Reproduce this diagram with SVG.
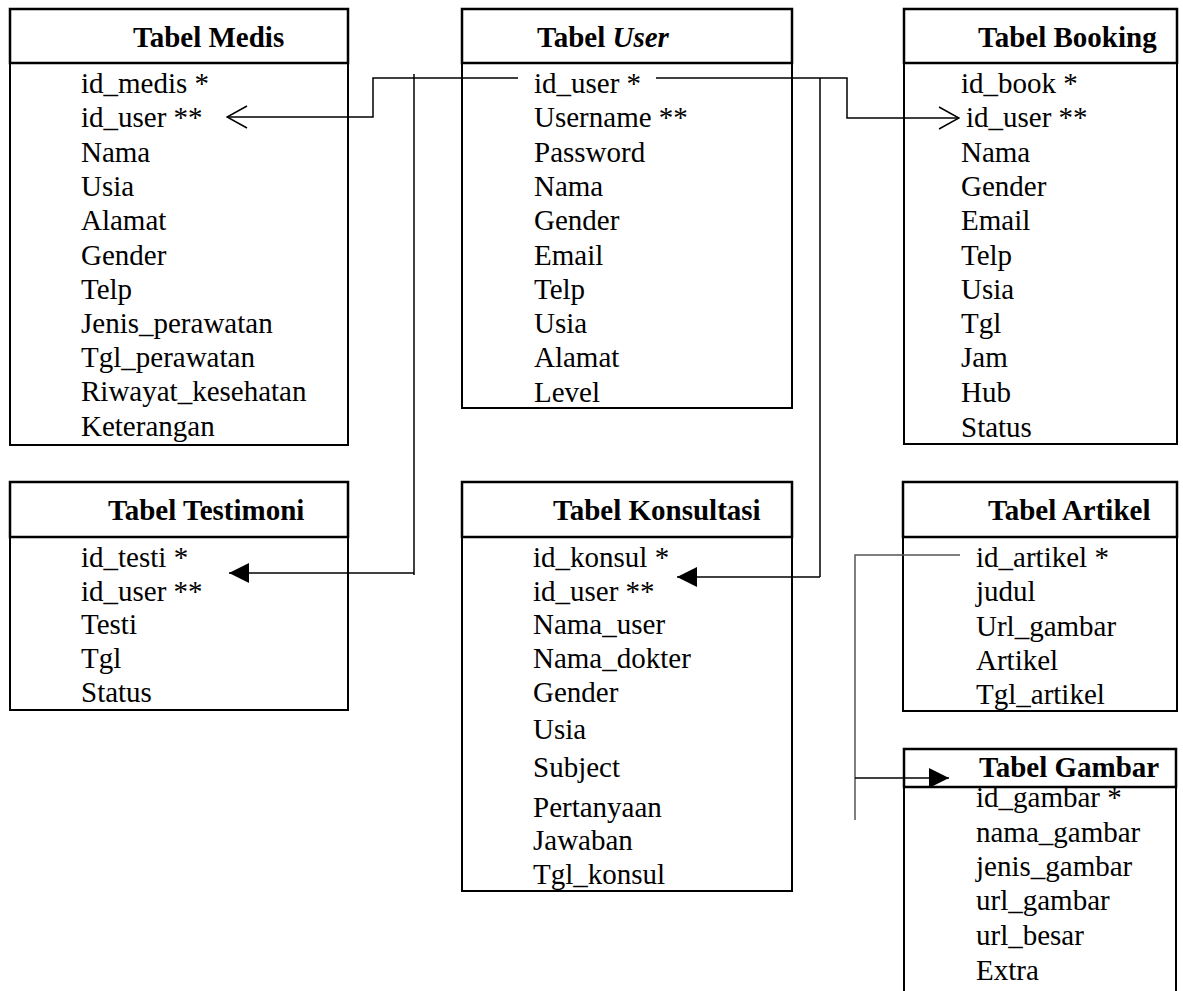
<svg xmlns="http://www.w3.org/2000/svg" width="1183" height="991" viewBox="0 0 1183 991">
<style>
.hd{fill:#fff;stroke:#000;stroke-width:2.5}
.bd{fill:#fff;stroke:#000;stroke-width:2}
.t{font-family:"Liberation Serif","Times New Roman",serif;font-size:29px;font-weight:bold;fill:#000}
.f{font-family:"Liberation Serif","Times New Roman",serif;font-size:29px;fill:#000}
.c{fill:none;stroke:#000;stroke-width:1.5}
.g{fill:none;stroke:#555;stroke-width:1.5}
</style>
<defs>
<marker id="fa" markerUnits="userSpaceOnUse" markerWidth="20" markerHeight="20" viewBox="0 0 20 20" refX="20" refY="10" orient="auto"><path d="M0,0 L20,10 L0,20 Z" fill="#000"/></marker>
<marker id="oa" markerUnits="userSpaceOnUse" markerWidth="22" markerHeight="24" viewBox="-1 -1 22 24" refX="20" refY="11" orient="auto"><path d="M0,0 L20,11 L0,22" fill="none" stroke="#000" stroke-width="1.5"/></marker>
</defs>
<g id="medis">
<rect class="bd" x="10" y="63" width="338" height="382"/>
<rect class="hd" x="10" y="9" width="338" height="54"/>
<text class="t" x="133" y="47">Tabel Medis</text>
<text class="f" x="81" y="93">id_medis *</text>
<text class="f" x="81" y="127">id_user **</text>
<text class="f" x="81" y="162">Nama</text>
<text class="f" x="81" y="196">Usia</text>
<text class="f" x="81" y="230">Alamat</text>
<text class="f" x="81" y="265">Gender</text>
<text class="f" x="81" y="299">Telp</text>
<text class="f" x="81" y="333">Jenis_perawatan</text>
<text class="f" x="81" y="367">Tgl_perawatan</text>
<text class="f" x="81" y="401">Riwayat_kesehatan</text>
<text class="f" x="81" y="436">Keterangan</text>
</g>
<g id="user">
<rect class="bd" x="462" y="63" width="330" height="345"/>
<rect class="hd" x="462" y="9" width="330" height="54"/>
<text class="t" x="537" y="47">Tabel <tspan font-style="italic">User</tspan></text>
<text class="f" x="534" y="93">id_user *</text>
<text class="f" x="534" y="127">Username **</text>
<text class="f" x="534" y="162">Password</text>
<text class="f" x="534" y="196">Nama</text>
<text class="f" x="534" y="230">Gender</text>
<text class="f" x="534" y="265">Email</text>
<text class="f" x="534" y="299">Telp</text>
<text class="f" x="534" y="333">Usia</text>
<text class="f" x="534" y="367">Alamat</text>
<text class="f" x="534" y="402">Level</text>
</g>
<g id="booking">
<rect class="bd" x="904" y="63" width="273" height="381"/>
<rect class="hd" x="904" y="9" width="273" height="54"/>
<text class="t" x="978" y="47">Tabel Booking</text>
<text class="f" x="961" y="93">id_book *</text>
<text class="f" x="966" y="127">id_user **</text>
<text class="f" x="961" y="162">Nama</text>
<text class="f" x="961" y="196">Gender</text>
<text class="f" x="961" y="230">Email</text>
<text class="f" x="961" y="265">Telp</text>
<text class="f" x="961" y="299">Usia</text>
<text class="f" x="961" y="333">Tgl</text>
<text class="f" x="961" y="367">Jam</text>
<text class="f" x="961" y="402">Hub</text>
<text class="f" x="961" y="437">Status</text>
</g>
<g id="testimoni">
<rect class="bd" x="10" y="537" width="338" height="173"/>
<rect class="hd" x="10" y="482" width="338" height="55"/>
<text class="t" x="108" y="520">Tabel Testimoni</text>
<text class="f" x="81" y="567">id_testi *</text>
<text class="f" x="81" y="601">id_user **</text>
<text class="f" x="81" y="634">Testi</text>
<text class="f" x="81" y="668">Tgl</text>
<text class="f" x="81" y="702">Status</text>
</g>
<g id="konsultasi">
<rect class="bd" x="462" y="537" width="330" height="354"/>
<rect class="hd" x="462" y="482" width="330" height="55"/>
<text class="t" x="553" y="520">Tabel Konsultasi</text>
<text class="f" x="533" y="567">id_konsul *</text>
<text class="f" x="533" y="601">id_user **</text>
<text class="f" x="533" y="634">Nama_user</text>
<text class="f" x="533" y="668">Nama_dokter</text>
<text class="f" x="533" y="702">Gender</text>
<text class="f" x="533" y="739">Usia</text>
<text class="f" x="533" y="777">Subject</text>
<text class="f" x="533" y="817">Pertanyaan</text>
<text class="f" x="533" y="850">Jawaban</text>
<text class="f" x="533" y="884">Tgl_konsul</text>
</g>
<g id="artikel">
<rect class="bd" x="903" y="537" width="274" height="174"/>
<rect class="hd" x="903" y="482" width="274" height="55"/>
<text class="t" x="988" y="520">Tabel Artikel</text>
<text class="f" x="976" y="567">id_artikel *</text>
<text class="f" x="976" y="601">judul</text>
<text class="f" x="976" y="636">Url_gambar</text>
<text class="f" x="976" y="670">Artikel</text>
<text class="f" x="976" y="704">Tgl_artikel</text>
</g>
<g id="gambar">
<rect class="bd" x="904" y="787" width="272" height="215"/>
<rect class="hd" x="904" y="749" width="272" height="38"/>
<text class="t" x="979" y="777">Tabel Gambar</text>
<text class="f" x="976" y="807">id_gambar *</text>
<text class="f" x="976" y="842">nama_gambar</text>
<text class="f" x="976" y="876">jenis_gambar</text>
<text class="f" x="976" y="910">url_gambar</text>
<text class="f" x="976" y="945">url_besar</text>
<text class="f" x="976" y="980">Extra</text>
</g>
<g id="connectors">
<polyline class="c" points="518,78 373,78 373,117 227,117" marker-end="url(#oa)"/>
<line class="c" x1="414" y1="74" x2="414" y2="575"/>
<line class="c" x1="414" y1="573" x2="229" y2="573" marker-end="url(#fa)"/>
<polyline class="c" points="656,78 847,78 847,118 959,118" marker-end="url(#oa)"/>
<line class="c" x1="820" y1="78" x2="820" y2="577"/>
<line class="c" x1="820" y1="577" x2="677" y2="577" marker-end="url(#fa)"/>
<polyline class="g" points="960,555 855,555 855,820"/>
<line class="c" x1="855" y1="778" x2="949" y2="778" marker-end="url(#fa)"/>
</g>
</svg>
